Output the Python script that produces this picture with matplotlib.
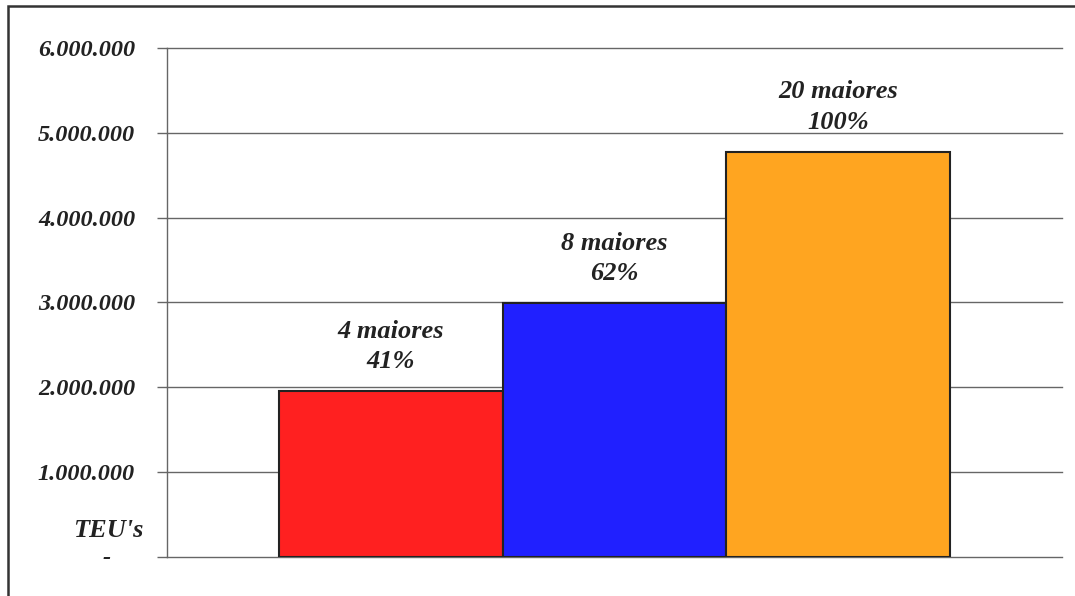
import matplotlib.pyplot as plt
from matplotlib.patches import Rectangle

# ======================
# Data
# ======================
groups = ['4 maiores', '8 maiores', '20 maiores']
shares = ['41%', '62%', '100%']
teus = [1957000, 2995000, 4778000]
colors = ['#FF2020', '#2020FF', '#FFA520']
yticks = [0, 1000000, 2000000, 3000000, 4000000, 5000000, 6000000]
ytick_labels = ['', '1.000.000', '2.000.000', '3.000.000', '4.000.000', '5.000.000', '6.000.000']

FONT = dict(family='Liberation Serif', weight='bold', style='italic', color='#222222')

# ======================
# Plot
# ======================
fig = plt.figure(figsize=(10.75, 5.96), dpi=100)
ax = fig.add_axes([0.1553, 0.0654, 0.8326, 0.8541])

# outer frame (only left/top visible in the original)
fig.patches.append(Rectangle((0.0075, -0.1), 1.2, 1.09, transform=fig.transFigure,
                             fill=False, edgecolor='#333333', linewidth=1.8))

x = range(len(groups))
ax.bar(x, teus, width=1.0, color=colors, edgecolor='#222222', linewidth=1.5, zorder=3)

for i, (g, s, v) in enumerate(zip(groups, shares, teus)):
    ax.annotate(f'{g}\n{s}', (i, v), xytext=(0, 13), textcoords='offset points',
                ha='center', va='bottom', fontsize=19, linespacing=1.4, **FONT)

# horizontal gridlines (not clipped so the 0 and top lines show fully)
for t in yticks:
    ax.axhline(t, color='#666666', linewidth=1, zorder=0, clip_on=False)

ax.set_xlim(-1.0, 3.0)
ax.set_ylim(0, 6000000)
ax.set_yticks(yticks)
ax.set_yticklabels(ytick_labels, **FONT, fontsize=17.5)
ax.tick_params(axis='y', length=7, width=1, color='#666666', pad=16)
ax.set_xticks([])

for side in ['top', 'right', 'bottom']:
    ax.spines[side].set_visible(False)
ax.spines['left'].set_color('#666666')
ax.spines['left'].set_linewidth(1)

# zero label and unit label
ax.text(-0.068, -0.002, "-", transform=ax.transAxes, ha='center', va='center',
        fontsize=17.5, **FONT)
ax.text(-0.026, 0.052, "TEU's", transform=ax.transAxes, ha='right', va='center',
        fontsize=19, **FONT)

fig.savefig('out.png', dpi=100)
